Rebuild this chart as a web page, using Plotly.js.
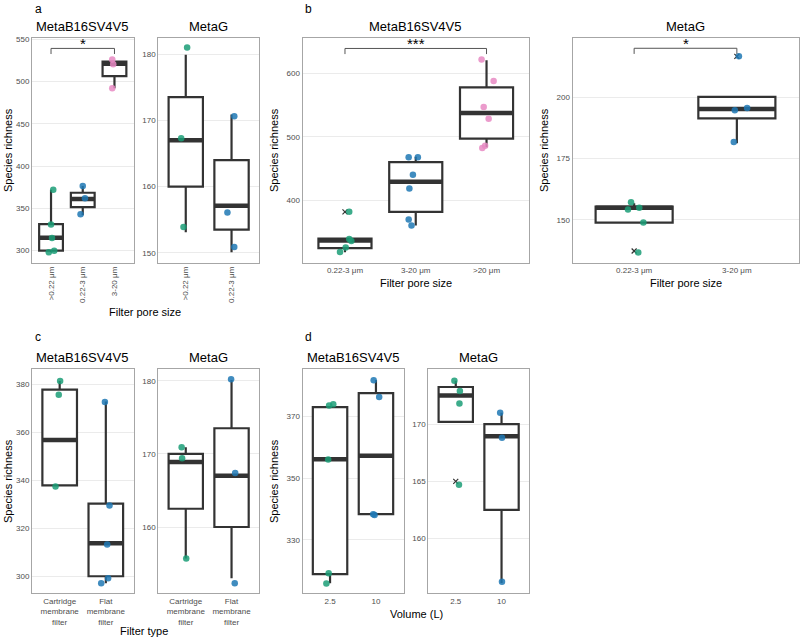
<!DOCTYPE html>
<html><head><meta charset="utf-8">
<script src="https://cdn.plot.ly/plotly-3.0.1.min.js"></script>
<style>html,body{margin:0;padding:0;background:#fff}</style>
</head><body><div id="chart" style="width:800px;height:637px"></div>
<script>
// ---------- Panel a : filter pore size ----------
const aB_cats = [">0.22 μm", "0.22-3 μm", "3-20 μm"];
const aB_q1 = [300, 351.5, 506.5];
const aB_med = [315.2, 361, 521];
const aB_q3 = [331.5, 368.5, 523.5];
const aB_lo = [298, 342, 492];
const aB_hi = [372, 376.5, 523.5];
const aB_ptCat = [1,1,1,1,1, 2,2,2, 3,3,3];
const aB_ptJit = [0.07,0,0.03,0.10,-0.07, 0,0.07,-0.07, -0.07,-0.04,-0.07];
const aB_ptVal = [372,331,315,300,298, 376.5,362,343, 526,520.5,492];

const aG_cats = [">0.22 μm", "0.22-3 μm"];
const aG_q1 = [160, 153.5];
const aG_med = [167, 157.1];
const aG_q3 = [173.5, 164];
const aG_lo = [153.1, 150.1];
const aG_hi = [179.9, 170.9];
const aG_ptCat = [1,1,1, 2,2,2];
const aG_ptJit = [0.03,-0.1,-0.05, 0.06,-0.09,0.06];
const aG_ptVal = [181,167.3,153.9, 170.6,156.1,150.9];

// ---------- Panel b : filter pore size ----------
const bB_cats = ["0.22-3 μm", "3-20 μm", ">20 μm"];
const bB_q1 = [324.4, 381.5, 497];
const bB_med = [336.5, 429, 537.6];
const bB_q3 = [339.5, 460, 578];
const bB_lo = [318, 360, 483.5];
const bB_hi = [339.5, 468.5, 621];
const bB_ptCat = [1,1,1,1,1, 2,2,2,2,2,2, 3,3,3,3,3,3];
const bB_ptJit = [0.06,0.06,0.09,0.01,-0.07, -0.1,0.03,-0.04,-0.09,-0.1,-0.06, -0.07,0.1,-0.04,0.03,-0.02,-0.06];
const bB_ptVal = [381.6,338.9,335.7,325.2,318.4, 467.7,467.7,440.3,418.3,369.4,360, 622,588,547,528.5,486,482.4];
const bB_outCat = [1];
const bB_outVal = [381.6];

const bG_cats = ["0.22-3 μm", "3-20 μm"];
const bG_q1 = [148.9, 191.4];
const bG_med = [154.9, 195.2];
const bG_q3 = [155.4, 200.2];
const bG_lo = [148.9, 181.3];
const bG_hi = [156.8, 200.2];
const bG_ptCat = [1,1,1,1,1, 2,2,2,2];
const bG_ptJit = [-0.03,-0.06,0.05,0.09,0.04, 0.02,-0.02,0.1,-0.03];
const bG_ptVal = [157.2,154.2,154.9,148.9,136.7, 216.8,194.7,195.6,181.8];
const bG_outCat = [1, 2];
const bG_outVal = [137.3, 216.7];

// ---------- Panel c : filter type ----------
const cB_cats = ["Cartridge<br>membrane<br>filter", "Flat<br>membrane<br>filter"];
const cB_q1 = [337.9, 300];
const cB_med = [356.8, 313.75];
const cB_q3 = [377.8, 330.3];
const cB_lo = [337.9, 297.1];
const cB_hi = [381.4, 372.8];
const cB_ptCat = [1,1,1, 2,2,2,2,2];
const cB_ptJit = [0.01,-0.02,-0.09, -0.02,0.08,0.03,0.05,-0.1];
const cB_ptVal = [381.4,375.6,337.4, 372.6,329.5,313.2,299.2,297.1];

const cG_cats = ["Cartridge<br>membrane<br>filter", "Flat<br>membrane<br>filter"];
const cG_q1 = [162.5, 160];
const cG_med = [168.9, 167];
const cG_q3 = [170, 173.5];
const cG_lo = [155.7, 153];
const cG_hi = [170.9, 180.1];
const cG_ptCat = [1,1,1, 2,2,2];
const cG_ptJit = [-0.09,-0.08,0.01, -0.01,0.08,0.07];
const cG_ptVal = [170.9,169.4,155.7, 180.2,167.4,152.3];

// ---------- Panel d : volume ----------
const dB_cats = ["2.5", "10"];
const dB_q1 = [318.9, 338.4];
const dB_med = [356.2, 357.3];
const dB_q3 = [373.1, 377.6];
const dB_lo = [316, 338.4];
const dB_hi = [373.1, 381.9];
const dB_ptCat = [1,1,1,1,1, 2,2,2,2];
const dB_ptJit = [0.07,-0.02,-0.04,-0.03,-0.08, -0.05,0.07,-0.03,-0.06];
const dB_ptVal = [374,373.6,356.1,319.2,315.9, 381.8,376.4,338.1,338.3];

const dG_cats = ["2.5", "10"];
const dG_q1 = [170.2, 162.5];
const dG_med = [172.5, 168.95];
const dG_q3 = [173.25, 170];
const dG_lo = [170.2, 156.1];
const dG_hi = [173.8, 171];
const dG_ptCat = [1,1,1,1, 2,2,2];
const dG_ptJit = [-0.03,0.09,0.08,0.07, -0.03,0.01,0.01];
const dG_ptVal = [173.8,172.9,171.8,164.7, 171,168.8,156.2];
const dG_outCat = [1];
const dG_outVal = [165];

// significance brackets
const sigPanel = [1, 3, 4];
const sigFrom = [1, 1, 1];
const sigTo = [3, 3, 2];
const sigY = [539.2, 639.4, 220];
const sigLabel = ["*", "***", "*"];

// ---------- build ----------
const GREEN='#1b9e77', BLUE='#1f78b4', PINK='#e78ac3';
const catColors=[GREEN,BLUE,PINK];
const W=800, H=637;

const panels = [
  {cats:aB_cats,q1:aB_q1,med:aB_med,q3:aB_q3,lo:aB_lo,hi:aB_hi,pc:aB_ptCat,pj:aB_ptJit,pv:aB_ptVal},
  {cats:aG_cats,q1:aG_q1,med:aG_med,q3:aG_q3,lo:aG_lo,hi:aG_hi,pc:aG_ptCat,pj:aG_ptJit,pv:aG_ptVal},
  {cats:bB_cats,q1:bB_q1,med:bB_med,q3:bB_q3,lo:bB_lo,hi:bB_hi,pc:bB_ptCat,pj:bB_ptJit,pv:bB_ptVal,oc:bB_outCat,ov:bB_outVal},
  {cats:bG_cats,q1:bG_q1,med:bG_med,q3:bG_q3,lo:bG_lo,hi:bG_hi,pc:bG_ptCat,pj:bG_ptJit,pv:bG_ptVal,oc:bG_outCat,ov:bG_outVal},
  {cats:cB_cats,q1:cB_q1,med:cB_med,q3:cB_q3,lo:cB_lo,hi:cB_hi,pc:cB_ptCat,pj:cB_ptJit,pv:cB_ptVal},
  {cats:cG_cats,q1:cG_q1,med:cG_med,q3:cG_q3,lo:cG_lo,hi:cG_hi,pc:cG_ptCat,pj:cG_ptJit,pv:cG_ptVal},
  {cats:dB_cats,q1:dB_q1,med:dB_med,q3:dB_q3,lo:dB_lo,hi:dB_hi,pc:dB_ptCat,pj:dB_ptJit,pv:dB_ptVal},
  {cats:dG_cats,q1:dG_q1,med:dG_med,q3:dG_q3,lo:dG_lo,hi:dG_hi,pc:dG_ptCat,pj:dG_ptJit,pv:dG_ptVal,oc:dG_outCat,ov:dG_outVal}
];

// plot-area pixel boxes [left, right, top, bottom]
const boxes = [[32,133.5,37.5,262.5],[158.3,259,37.5,262.5],[302.5,529,37.5,262.5],[572.5,798.5,37.5,262.5],
               [32,133.5,369.3,593.3],[158.3,259,369.3,593.3],[302.5,403.5,369.3,593.3],[428.3,529,369.3,593.3]];
const yRanges = [[286,552.1],[148.55,182.5],[301.7,656.7],[132.6,224.4],[292.9,386.25],[150.94,181.56],[312.7,385.35],[155.2,174.8]];
const yDticks = [50,10,100,25,20,10,20,5];
const yTick0 = [0,0,0,0,0,0,10,0];

const FONT = 'Liberation Sans, Arial, Helvetica, sans-serif';
const BW = 0.75;
const traces = [];
const layout = {
  width:W, height:H, margin:{l:0,r:0,t:0,b:0}, showlegend:false,
  paper_bgcolor:'#fff', plot_bgcolor:'#fff', font:{family:FONT},
  annotations:[], hovermode:false
};

panels.forEach((p,i)=>{
  const k = i+1, sx = k===1?'':String(k);
  const xa='x'+sx, ya='y'+sx;
  const pos = p.cats.map((c,j)=>j+1);
  traces.push({type:'box', xaxis:xa, yaxis:ya, x:pos, q1:p.q1, median:p.med, q3:p.q3,
    lowerfence:p.lo, upperfence:p.hi, width:BW, whiskerwidth:0, boxpoints:false,
    fillcolor:'#ffffff', line:{color:'#333333', width:2.2}, hoverinfo:'skip'});
  const mx=[], my=[];
  p.med.forEach((m,j)=>{ mx.push(j+1-BW/2, j+1+BW/2, null); my.push(m,m,null); });
  traces.push({type:'scatter', mode:'lines', xaxis:xa, yaxis:ya, x:mx, y:my,
    line:{color:'#333333', width:4.5}, hoverinfo:'skip'});
  if(p.oc){
    traces.push({type:'scatter', mode:'markers', xaxis:xa, yaxis:ya, x:p.oc, y:p.ov,
      marker:{symbol:'x-thin', size:5, line:{color:'#333333', width:1.2}}, hoverinfo:'skip'});
  }
  traces.push({type:'scatter', mode:'markers', xaxis:xa, yaxis:ya,
    x:p.pc.map((c,j)=>c+p.pj[j]), y:p.pv,
    marker:{size:6.5, color:p.pc.map(c=>catColors[c-1]), opacity:0.85}, hoverinfo:'skip'});

  const b = boxes[i];
  layout['xaxis'+sx] = {domain:[b[0]/W, b[1]/W], anchor:ya, range:[0.4, p.cats.length+0.6],
    tickmode:'array', tickvals:pos, ticktext:p.cats, showgrid:false, zeroline:false,
    showline:true, mirror:true, linecolor:'#a6a6a6', linewidth:1, ticks:'',
    tickfont:{size:8, color:'#4d4d4d', family:FONT}, tickangle:(k<=2? -90 : 0), fixedrange:true};
  layout['yaxis'+sx] = {domain:[1-b[3]/H, 1-b[2]/H], anchor:xa, range:yRanges[i],
    dtick:yDticks[i], tick0:yTick0[i], showgrid:true, gridcolor:'#ebebeb', gridwidth:1, zeroline:false,
    showline:true, mirror:true, linecolor:'#a6a6a6', linewidth:1, ticks:'',
    tickfont:{size:8, color:'#4d4d4d', family:FONT}, fixedrange:true};
});

// significance brackets
sigPanel.forEach((pk,j)=>{
  const sx = pk===1?'':String(pk);
  const r = yRanges[pk-1], drop = (r[1]-r[0])*0.025;
  const x1 = sigFrom[j], x2 = sigTo[j], y = sigY[j];
  traces.push({type:'scatter', mode:'lines', xaxis:'x'+sx, yaxis:'y'+sx,
    x:[x1,x1,x2,x2], y:[y-drop,y,y,y-drop], line:{color:'#555555', width:1}, hoverinfo:'skip'});
  layout.annotations.push({xref:'x'+sx, yref:'y'+sx, x:(x1+x2)/2, y:y, text:sigLabel[j],
    showarrow:false, yanchor:'bottom', yshift:-6, font:{size:15, color:'#000'}});
});

function ann(text, px, py, opts){
  return Object.assign({xref:'paper', yref:'paper', x:px/W, y:1-py/H, text:text, showarrow:false,
    xanchor:'center', yanchor:'middle', font:{size:11, color:'#000', family:FONT}}, opts||{});
}
// panel letters
[['a',33,9],['b',303,9],['c',33,337],['d',303,337]].forEach(l=>{
  layout.annotations.push(ann(l[0], l[1], l[2], {xanchor:'left', font:{size:12,color:'#000',family:FONT}}));
});
// panel titles
const titleTexts = ['MetaB16SV4V5','MetaG','MetaB16SV4V5','MetaG','MetaB16SV4V5','MetaG','MetaB16SV4V5','MetaG'];
boxes.forEach((b,i)=>{
  layout.annotations.push(ann(titleTexts[i], (b[0]+b[1])/2, b[2]-11.5, {font:{size:13,color:'#000',family:FONT}}));
});
// y-axis titles
[[8,150],[274,150],[544,150],[8,481],[274,481]].forEach(t=>{
  layout.annotations.push(ann('Species richness', t[0], t[1], {textangle:-90}));
});
// x-axis titles
layout.annotations.push(ann('Filter pore size', 145, 312));
layout.annotations.push(ann('Filter pore size', 416, 283));
layout.annotations.push(ann('Filter pore size', 685.5, 283));
layout.annotations.push(ann('Filter type', 144, 631));
layout.annotations.push(ann('Volume (L)', 416, 613.5));

Plotly.newPlot('chart', traces, layout, {staticPlot:true, displayModeBar:false});
</script>
</body></html>
